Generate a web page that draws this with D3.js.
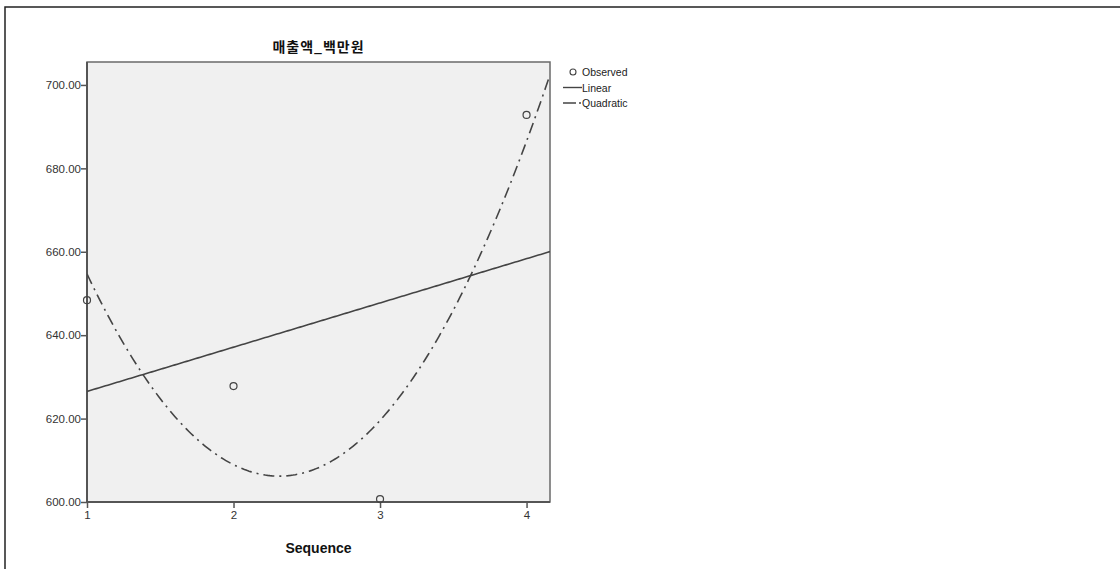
<!DOCTYPE html>
<html>
<head>
<meta charset="utf-8">
<script src="https://cdn.jsdelivr.net/npm/d3@7"></script>
<style>
  body { margin: 0; background: #fff; }
  svg { display: block; font-family: Arial, "Liberation Sans", sans-serif; }
</style>
</head>
<body>
<div id="chart"></div>
<script>
// data
const sequence = [1, 2, 3, 4];
const observed = [648.4, 627.8, 600.7, 692.8];
const yTicks = [600, 620, 640, 660, 680, 700];
const xTicks = [1, 2, 3, 4];
const legendItems = ["Observed", "Linear", "Quadratic"];

const width = 1120;
const height = 569;
const margin = ({top: 62, right: 570, bottom: 67, left: 87});

const svg = d3.create("svg")
    .attr("width", width)
    .attr("height", height);

// outer frame (top and left only visible)
svg.append("path")
    .attr("d", `M5,${height} L5,7 L${width},7`)
    .attr("fill", "none")
    .attr("stroke", "#222")
    .attr("stroke-width", 1.5);

const xScale = d3.scaleLinear()
    .domain([1, 4.16])
    .range([margin.left, width - margin.right]);

const yScale = d3.scaleLinear()
    .domain([600, 705.5])
    .range([height - margin.bottom, margin.top]);

// least squares fits of the observed values (linear and quadratic)
function fitPoly(xs, ys, deg) {
    const n = deg + 1;
    const A = [];
    for (let r = 0; r < n; r++) {
        A.push([]);
        for (let c = 0; c < n; c++) A[r].push(d3.sum(xs, x => Math.pow(x, r + c)));
        A[r].push(d3.sum(xs, (x, i) => Math.pow(x, r) * ys[i]));
    }
    for (let i = 0; i < n; i++) {
        for (let k = i + 1; k < n; k++) {
            const f = A[k][i] / A[i][i];
            for (let j = i; j <= n; j++) A[k][j] -= f * A[i][j];
        }
    }
    const coef = new Array(n).fill(0);
    for (let i = n - 1; i >= 0; i--) {
        let s = A[i][n];
        for (let j = i + 1; j < n; j++) s -= A[i][j] * coef[j];
        coef[i] = s / A[i][i];
    }
    return x => coef.reduce((acc, c, p) => acc + c * Math.pow(x, p), 0);
}
const linear = fitPoly(sequence, observed, 1);
const quadratic = fitPoly(sequence, observed, 2);

// plot background
svg.append("rect")
    .attr("x", margin.left)
    .attr("y", margin.top)
    .attr("width", xScale.range()[1] - margin.left)
    .attr("height", yScale.range()[0] - margin.top)
    .attr("fill", "#f0f0f0")
    .attr("stroke", "#6a6a6a")
    .attr("stroke-width", 1.5);

svg.append("clipPath")
    .attr("id", "plot-clip")
    .append("rect")
    .attr("x", margin.left)
    .attr("y", margin.top)
    .attr("width", xScale.range()[1] - margin.left)
    .attr("height", yScale.range()[0] - margin.top);

// axes
const yAxis = svg.append("g")
    .attr("transform", `translate(${margin.left},0)`)
    .call(d3.axisLeft(yScale).tickValues(yTicks).tickFormat(d3.format(".2f")).tickSize(6).tickSizeOuter(0))
    .call(g => g.select(".domain").remove());
yAxis.selectAll("line").attr("stroke", "#555").attr("stroke-width", 1.5);
yAxis.selectAll("text").attr("font-size", 11.5).attr("fill", "#333").attr("font-family", "Arial, Liberation Sans").attr("x", -6);

const xAxis = svg.append("g")
    .attr("transform", `translate(0,${height - margin.bottom})`)
    .call(d3.axisBottom(xScale).tickValues(xTicks).tickFormat(d3.format("d")).tickSize(6).tickSizeOuter(0))
    .call(g => g.select(".domain").remove());
xAxis.selectAll("line").attr("stroke", "#555").attr("stroke-width", 1.5);
xAxis.selectAll("text").attr("font-size", 11.5).attr("fill", "#333").attr("font-family", "Arial, Liberation Sans").attr("y", 9);

// axis lines
svg.append("line")
    .attr("x1", margin.left).attr("x2", margin.left)
    .attr("y1", margin.top).attr("y2", yScale.range()[0])
    .attr("stroke", "#555").attr("stroke-width", 2);
svg.append("line")
    .attr("x1", margin.left).attr("x2", xScale.range()[1])
    .attr("y1", yScale.range()[0]).attr("y2", yScale.range()[0])
    .attr("stroke", "#555").attr("stroke-width", 2);

// fit lines
const plot = svg.append("g").attr("clip-path", "url(#plot-clip)");
const xs = d3.range(0, 201).map(i => 1 + (4.16 - 1) * i / 200);

plot.append("path")
    .datum(xs)
    .attr("fill", "none")
    .attr("stroke", "#444")
    .attr("stroke-width", 1.6)
    .attr("d", d3.line().x(d => xScale(d)).y(d => yScale(linear(d))));

plot.append("path")
    .datum(xs)
    .attr("fill", "none")
    .attr("stroke", "#444")
    .attr("stroke-width", 1.6)
    .attr("stroke-dasharray", "11,5,2,5")
    .attr("d", d3.line().x(d => xScale(d)).y(d => yScale(quadratic(d))));

// observed points
svg.selectAll(".obs")
    .data(sequence)
    .enter().append("circle")
    .attr("class", "obs")
    .attr("cx", d => xScale(d))
    .attr("cy", (d, i) => yScale(observed[i]))
    .attr("r", 3.5)
    .attr("fill", "none")
    .attr("stroke", "#444")
    .attr("stroke-width", 1.2);

// title
svg.append("text")
    .attr("x", (margin.left + xScale.range()[1]) / 2)
    .attr("y", 52)
    .attr("text-anchor", "middle")
    .attr("font-family", "Noto Sans CJK KR")
    .attr("font-weight", 700)
    .attr("font-size", 14)
    .attr("letter-spacing", 1)
    .attr("fill", "#111")
    .text("매출액_백만원");

// x axis title
svg.append("text")
    .attr("x", (margin.left + xScale.range()[1]) / 2)
    .attr("y", 553)
    .attr("text-anchor", "middle")
    .attr("font-weight", 700)
    .attr("font-size", 14)
    .attr("fill", "#111")
    .text("Sequence");

// legend
const legend = svg.append("g").attr("transform", "translate(563,72)");
legendItems.forEach((name, i) => {
    const g = legend.append("g").attr("transform", `translate(0,${i * 15.5})`);
    if (i === 0) {
        g.append("circle").attr("cx", 10).attr("cy", 0).attr("r", 3)
            .attr("fill", "none").attr("stroke", "#444").attr("stroke-width", 1.1);
    } else {
        g.append("line").attr("x1", 0).attr("x2", 19).attr("y1", 0).attr("y2", 0)
            .attr("stroke", "#444").attr("stroke-width", 1.4)
            .attr("stroke-dasharray", i === 2 ? "13,3,2,2" : null);
    }
    g.append("text")
        .attr("x", 19)
        .attr("y", 4)
        .attr("font-size", 10.5)
        .attr("fill", "#222")
        .text(name);
});

document.getElementById("chart").appendChild(svg.node());
</script>
</body>
</html>
